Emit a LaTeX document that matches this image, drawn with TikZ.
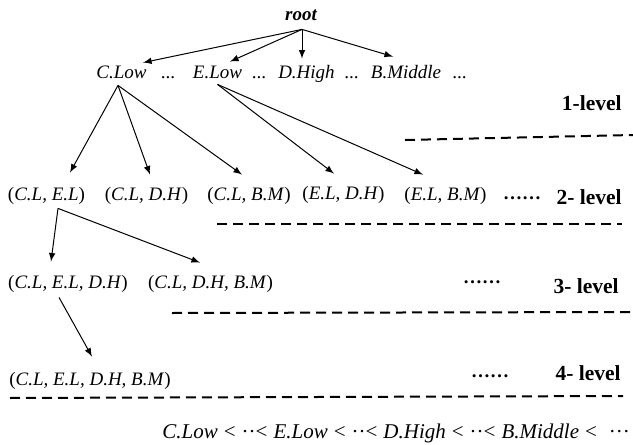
\documentclass[tikz,border=0pt]{standalone}
\usepackage{fontspec}
\setmainfont{Liberation Serif}
\newcommand{\tuplbl}[1]{\textup{(}#1\textup{)}}
\tikzset{
  lbl/.style={inner sep=0pt,anchor=base,text height=7pt,text depth=2pt,font=\fontsize{9.5}{11}\selectfont\itshape},
  lvl/.style={inner sep=0pt,anchor=base east,font=\fontsize{10.75}{12}\selectfont\bfseries},
  dotlbl/.style={inner sep=0pt,anchor=base,font=\fontsize{9.5}{11}\selectfont\bfseries},
  arr/.style={draw=black,-latex,line width=0.5pt},
  sep/.style={draw=black,line width=1pt,dash pattern=on 5pt off 3pt}
}
\begin{document}
\begin{tikzpicture}[x=0.5pt,y=-0.5pt]
\useasboundingbox (0,0) rectangle (633,445);

%root
\node[lbl,font=\fontsize{9.5}{11}\selectfont\bfseries\itshape] (root) at (301,20) {root};

%level 1
\node[lbl] (clow) at (121.5,78) {C.Low};
\node[lbl] (d1) at (168.5,78) {...};
\node[lbl] (elow) at (217.5,78) {E.Low};
\node[lbl] (d2) at (259.5,78) {...};
\node[lbl] (dhigh) at (306.5,78) {D.High};
\node[lbl] (d3) at (352,78) {...};
\node[lbl] (bmid) at (406,78) {B.Middle};
\node[lbl] (d4) at (460,78) {...};
\node[lvl] (lv1) at (622,110) {1-level};
\path[arr] ([xshift=0.5pt,yshift=-2.5pt]root.south) -- ([xshift=10.75pt,yshift=0.5pt]clow.north);
\path[arr] ([xshift=0.5pt,yshift=-2.5pt]root.south) -- ([xshift=6.25pt,yshift=1pt]elow.north);
\path[arr] ([xshift=0.5pt,yshift=-2.5pt]root.south) -- ([xshift=-2.25pt,yshift=2.5pt]dhigh.north);
\path[arr] ([xshift=0.5pt,yshift=-2.5pt]root.south) -- ([xshift=-6.5pt,yshift=3.5pt]bmid.north);
\path[sep] (405,140) -- (633,135);

%level 2
\node[lbl] (cle) at (46.5,200) {\tuplbl{C.L, E.L}};
\node[lbl] (cld) at (146.5,200) {\tuplbl{C.L, D.H}};
\node[lbl] (clb) at (249,200) {\tuplbl{C.L, B.M}};
\node[lbl] (eld) at (343.5,199) {\tuplbl{E.L, D.H}};
\node[lbl] (elb) at (445.5,200) {\tuplbl{E.L, B.M}};
\node[dotlbl] (dots2) at (522,199) {……};
\node[lvl] (lv2) at (622,204) {2- level};
\path[arr] ([xshift=-1.75pt,yshift=-1.5pt]clow.south) -- ([xshift=11.75pt,yshift=6.5pt]cle.north);
\path[arr] ([xshift=-1.75pt,yshift=-1.5pt]clow.south) -- ([xshift=1.75pt,yshift=5.5pt]cld.north);
\path[arr] ([xshift=-1.75pt,yshift=-1.5pt]clow.south) -- ([xshift=-3.5pt,yshift=5.5pt]clb.north);
\path[arr] ([yshift=-1pt]elow.south) -- ([xshift=-4.75pt,yshift=5.5pt]eld.north);
\path[arr] ([yshift=-1pt]elow.south) -- ([xshift=-11.25pt,yshift=5.5pt]elb.north);
\path[sep] (217,224) -- (622,224);

%level 3
\node[lbl] (cled) at (68,288) {\tuplbl{C.L, E.L, D.H}};
\node[lbl] (cldb) at (210.5,288) {\tuplbl{C.L, D.H, B.M}};
\node[dotlbl] (dots3) at (482,283) {……};
\node[lvl] (lv3) at (619,293) {3- level};
\path[arr] ([xshift=5.75pt,yshift=-2pt]cle.south) -- ([xshift=-8.5pt,yshift=6pt]cled.north);
\path[arr] ([xshift=5.75pt,yshift=-2pt]cle.south) -- ([xshift=-5.25pt,yshift=5.5pt]cldb.north);
\path[sep] (172,313) -- (630,312);

%level 4
\node[lbl] (cledb) at (90,385) {\tuplbl{C.L, E.L, D.H, B.M}};
\node[dotlbl] (dots4) at (490,377) {……};
\node[lvl] (lv4) at (621,380) {4- level};
\path[arr] ([xshift=-4.5pt,yshift=-2.5pt]cled.south) -- ([xshift=1pt,yshift=7pt]cledb.north);
\path[sep] (10,398) -- (623,396);

%order
\node[inner sep=0pt,anchor=base west,font=\fontsize{10.5}{12}\selectfont] (order) at (162,438)
  {\spaceskip=3pt\textit{C.Low} < ··< \textit{E.Low} < ··< \textit{D.High} < ··< \textit{B.Middle} <\ \ ···};

\end{tikzpicture}
\end{document}
